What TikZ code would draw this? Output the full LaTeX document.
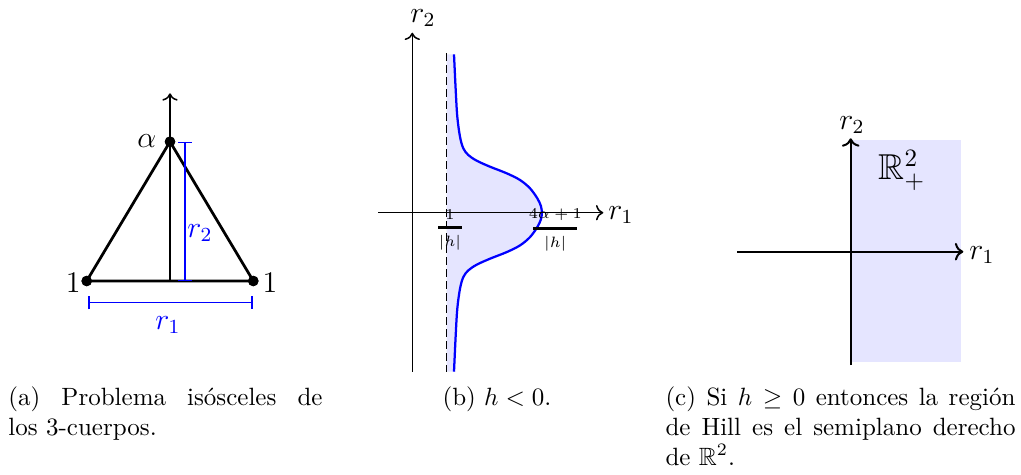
\documentclass[tikz,border=0pt]{standalone}
\usepackage{amsmath,amssymb}
\usetikzlibrary{arrows.meta}
\begin{document}
\begin{tikzpicture}[x=0.4pt,y=-0.4pt,
  axisline/.style={line width=0.6pt,->},
  axisthick/.style={line width=0.8pt,->},
  tri/.style={line width=1.1pt,line join=round},
  dot/.style={circle,fill=black,inner sep=0pt,minimum size=4.2pt},
  meas/.style={blue,line width=0.5pt,{Bar[width=5.4pt]}-{Bar[width=5.4pt]}},
  lbl/.style={inner sep=0pt,font=\large},
  fraclbl/.style={inner sep=0pt,font=\fontsize{6}{7}\selectfont},
  caption/.style={inner sep=0pt,font=\normalsize,align=justify},
  region/.style={fill=blue!10,draw=none},
  hill/.style={blue,line width=0.9pt}
]
\useasboundingbox (0,0) rectangle (1021,474);

% ---------- (a) ----------
\node[dot] (A) at (170,141.7) {};
\node[dot] (L) at (86.7,281) {};
\node[dot] (R) at (253.3,281) {};
\coordinate (Abase) at (170,281);
\coordinate (Atop) at (170,93.3);
\draw[axisline] (Abase) -- (Atop);
\draw[tri] (L.center) -- (R.center) -- (A.center) -- cycle;
\node[dot] at (A.center) {};
\node[dot] at (L.center) {};
\node[dot] at (R.center) {};
\coordinate (r2t) at (185,141.7);
\coordinate (r2b) at (185,281);
\draw[meas] (r2t) -- (r2b);
\coordinate (r1l) at (88.3,302.7);
\coordinate (r1r) at (252.7,302.7);
\draw[meas] (r1l) -- (r1r);
\node[lbl,text=blue] (r2a) at (200,233) {$r_2$};
\node[lbl,text=blue] (r1a) at (168,325) {$r_1$};
\node[lbl] (alpha) at (146.7,141) {$\alpha$};
\node[lbl] (oneL) at (73.3,283) {$1$};
\node[lbl] (oneR) at (270,283) {$1$};

% ---------- (b) ----------
\fill[region] (446.7,54.3) -- plot[smooth,tension=0.55] coordinates {
 (454,54.3) (455.7,90) (457.3,116.7) (460,136.7) (463.3,148.3) (468.3,155)
 (476.7,160.7) (490,166.7) (506.7,173.3) (520,180) (530,188.3) (537.3,198.3)
 (540.9,206) (541.8,212.7) (540.9,219.4) (537.3,227.1) (530,237.1) (520,245.4)
 (506.7,252.1) (490,258.7) (476.7,264.7) (468.3,270.4) (463.3,277.1) (460,288.7)
 (457.3,308.7) (455.7,335.4) (454,371.7)} -- (446.7,371.7) -- cycle;
\coordinate (bdt) at (446.7,53.3);
\coordinate (bdb) at (446.7,371.7);
\draw[line width=0.6pt,dash pattern=on 3.2pt off 1.6pt] (bdt) -- (bdb);
\draw[hill] plot[smooth,tension=0.55] coordinates {
 (454,54.3) (455.7,90) (457.3,116.7) (460,136.7) (463.3,148.3) (468.3,155)
 (476.7,160.7) (490,166.7) (506.7,173.3) (520,180) (530,188.3) (537.3,198.3)
 (540.9,206) (541.8,212.7) (540.9,219.4) (537.3,227.1) (530,237.1) (520,245.4)
 (506.7,252.1) (490,258.7) (476.7,264.7) (468.3,270.4) (463.3,277.1) (460,288.7)
 (457.3,308.7) (455.7,335.4) (454,371.7)};
\coordinate (bxl) at (378.3,212.7);
\coordinate (bxr) at (603.3,212.7);
\coordinate (byb) at (412.3,371.7);
\coordinate (byt) at (412.3,32.7);
\draw[axisline] (bxl) -- (bxr);
\draw[axisline] (byb) -- (byt);
\node[lbl] (br1) at (621,215) {$r_1$};
\node[lbl] (br2) at (423,18) {$r_2$};
\node[fraclbl] (f1) at (450,230) {$\genfrac{}{}{0.9pt}{0}{\makebox[9.4pt]{$1$}}{|h|}$};
\node[fraclbl] (f2) at (555.3,230) {$\genfrac{}{}{0.9pt}{0}{\makebox[17.6pt]{$4\alpha+1$}}{|h|}$};

% ---------- (c) ----------
\fill[region] (850,140) rectangle (960.7,361.7);
\coordinate (cxl) at (737.3,251.7);
\coordinate (cxr) at (963.3,251.7);
\coordinate (cyb) at (850.7,365);
\coordinate (cyt) at (850.7,138.3);
\draw[axisthick] (cxl) -- (cxr);
\draw[axisthick] (cyb) -- (cyt);
\node[lbl] (cr2) at (852,125) {$r_2$};
\node[lbl] (cr1) at (982,255) {$r_1$};
\node[inner sep=0pt,font=\Large] (cR) at (902,170) {$\mathbb{R}^2_+$};

% ---------- captions ----------
\node[caption,text width=125.6pt,anchor=base west] (capa) at (8,405)
  {(a) Problema isósceles de\linebreak los 3-cuerpos.};
\node[inner sep=0pt,anchor=base] (capb) at (497,405) {(b) $h<0$.};
\node[caption,text width=140pt,anchor=base west] (capc) at (665,405)
  {(c) Si $h\geq 0$ entonces la región\linebreak de Hill es el semiplano derecho\linebreak de $\mathbb{R}^2$.};
\end{tikzpicture}
\end{document}
